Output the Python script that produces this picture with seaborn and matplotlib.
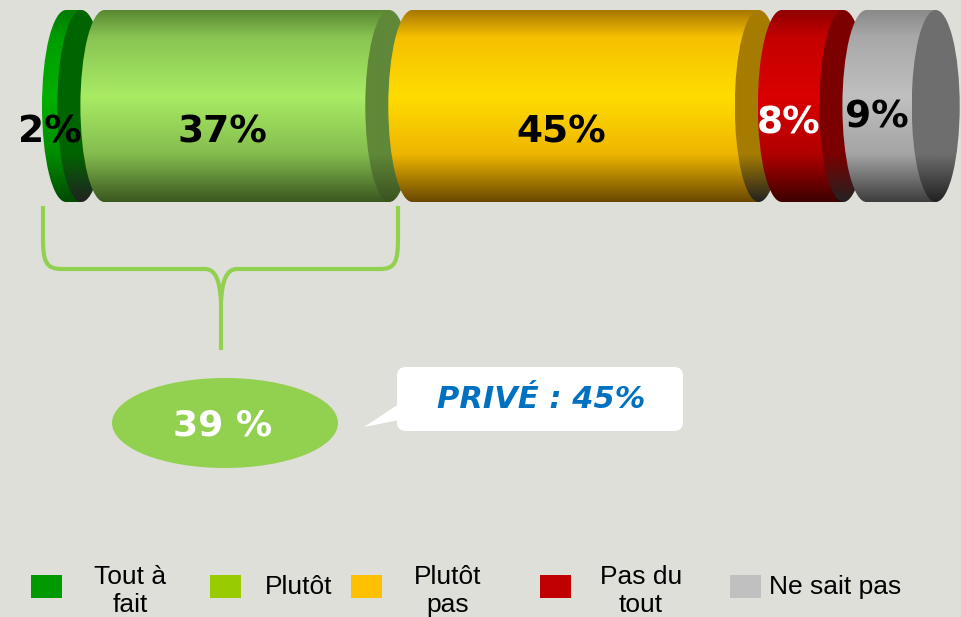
import numpy as np
import matplotlib
matplotlib.use("Agg")
import matplotlib.pyplot as plt
import seaborn as sns
from matplotlib.patches import Ellipse, Rectangle, FancyBboxPatch, Polygon, PathPatch
from matplotlib.path import Path
from matplotlib.colors import LinearSegmentedColormap

# ---------------- data ----------------
categories = ["Tout à fait", "Plutôt", "Plutôt pas", "Pas du tout", "Ne sait pas"]
values = [2, 37, 45, 8, 9]
value_labels = ["2%", "37%", "45%", "8%", "9%"]
legend_labels = ["Tout à\nfait", "Plutôt", "Plutôt\npas", "Pas du\ntout", "Ne sait pas"]
combined_label = f"{values[0] + values[1]} %"
prive_label = "PRIVÉ : 45%"

# ---------------- styles ----------------
legend_colors = ["#009900", "#99cc00", "#ffc000", "#c00000", "#c0c0c0"]
body_profiles = [
    ["#007a00", "#009c00", "#00b000", "#008c00", "#004a00"],
    ["#5a8832", "#88c452", "#a8ec64", "#84bc4e", "#3a5820"],
    ["#a87800", "#f5c000", "#ffdc00", "#eeb600", "#6a4800"],
    ["#900000", "#c40000", "#da0000", "#b00000", "#3c0000"],
    ["#8a8a8a", "#a8a8a8", "#c0c0c0", "#a4a4a4", "#3e3e3e"],
]
profile_pos = [0.0, 0.14, 0.45, 0.75, 1.0]
cap_colors = ["#006400", "#5f8838", "#a67c00", "#7c0000", "#6e6e6e"]
label_colors = ["black", "black", "black", "white", "black"]
label_dy = [0.14, 0.14, 0.14, 0.09, 0.06]
BG = "#dfdfd9"
BRACE = "#92d050"

W, H = 962, 617
K = 7.7          # pixels per percentage point
X0 = 66          # pixel of 0 %
GAP = 23 / K     # visible cap thickness (in % units)
A = 24 / K       # half width of the elliptic caps (in % units)

sns.set_theme(style="white")
plt.rcParams["font.family"] = ["DejaVu Sans"]

fig = plt.figure(figsize=(W / 100, H / 100), dpi=100)
fig.patch.set_facecolor(BG)

axb = fig.add_axes([0, 1 - 202 / H, 1, 192 / H])
axb.set_facecolor("none")

starts = []
pos = 0.0
for v in values:
    starts.append(pos)
    pos += v + GAP


def vgrad(colors, n=256):
    cmap = LinearSegmentedColormap.from_list("g", list(zip(profile_pos, colors)))
    return cmap(np.linspace(0, 1, n))[:, None, :]


for i, v in enumerate(values):
    sns.barplot(x=[v], y=["bar"], orient="h", left=starts[i], width=1,
                color=legend_colors[i], saturation=1, errorbar=None,
                linewidth=0, ax=axb, zorder=1)
    p = axb.patches[-1]
    x0, w = p.get_x(), p.get_width()
    z = 2 + 3 * i
    grad = vgrad(body_profiles[i])
    im = axb.imshow(grad, extent=(x0, x0 + w, 0.5, -0.5), origin="upper",
                    aspect="auto", interpolation="bilinear", zorder=z)
    im.set_clip_path(p)
    # convex left end of the cylinder
    le = Ellipse((x0, 0), 2 * A, 1, facecolor="none", edgecolor="none", zorder=z)
    axb.add_patch(le)
    im2 = axb.imshow(grad, extent=(x0 - A, x0 + A, 0.5, -0.5), origin="upper",
                     aspect="auto", interpolation="bilinear", zorder=z)
    im2.set_clip_path(le)
    # right end face
    cap = Ellipse((x0 + w, 0), 2 * A, 1, facecolor="none", edgecolor="none", zorder=z + 1)
    axb.add_patch(cap)
    c = cap_colors[i]
    capgrad = vgrad([c, c, c, c, "#222222"] if i != 1 else [c, c, c, c, "#3a5220"])
    im3 = axb.imshow(capgrad, extent=(x0 + w - A, x0 + w + A, 0.5, -0.5), origin="upper",
                     aspect="auto", interpolation="bilinear", zorder=z + 1)
    im3.set_clip_path(cap)
    axb.text(x0 + w / 2 - A, label_dy[i], value_labels[i], ha="center", va="center",
             fontsize=27, fontweight="bold", color=label_colors[i], zorder=50)

axb.set_xlim(-X0 / K, (W - X0) / K)
axb.set_ylim(0.5, -0.5)
axb.axis("off")

# ---------------- overlay (annotations, legend) ----------------
axo = fig.add_axes([0, 0, 1, 1])
axo.set_xlim(0, W)
axo.set_ylim(H, 0)
axo.axis("off")

verts = [(43, 206), (43, 238), (43, 262), (46, 269), (62, 269), (205, 269),
         (216, 269), (220, 282), (221, 302), (221, 350)]
codes = [Path.MOVETO, Path.LINETO, Path.CURVE4, Path.CURVE4, Path.CURVE4, Path.LINETO,
         Path.CURVE4, Path.CURVE4, Path.CURVE4, Path.LINETO]
verts2 = [(221, 302), (222, 282), (226, 269), (237, 269), (380, 269),
          (395, 269), (398, 262), (398, 238), (398, 206)]
codes2 = [Path.MOVETO, Path.CURVE4, Path.CURVE4, Path.CURVE4, Path.LINETO,
          Path.CURVE4, Path.CURVE4, Path.CURVE4, Path.LINETO]
for vv, cc in ((verts, codes), (verts2, codes2)):
    axo.add_patch(PathPatch(Path(vv, cc), facecolor="none", edgecolor=BRACE,
                            linewidth=3, capstyle="butt"))

axo.add_patch(Ellipse((225, 423), 226, 90, facecolor=BRACE, edgecolor="none"))
axo.text(223, 425, combined_label, ha="center", va="center", fontsize=26,
         fontweight="bold", color="white")

axo.add_patch(FancyBboxPatch((397, 367), 286, 64,
                             boxstyle="round,pad=0,rounding_size=9",
                             facecolor="white", edgecolor="none"))
axo.add_patch(Polygon([(399, 404), (364, 427), (399, 420)], closed=True,
                      facecolor="white", edgecolor="none"))
axo.text(541, 400, prive_label, ha="center", va="center", fontsize=22,
         fontweight="bold", fontstyle="italic", color="#0070c0")

# legend
sq_x = [31, 210, 351, 540, 730]
txt_x = [130, 265, 448, 641, 769]
txt_ha = ["center", "left", "center", "center", "left"]
for i, lab in enumerate(legend_labels):
    axo.add_patch(Rectangle((sq_x[i], 575), 31, 23, facecolor=legend_colors[i],
                            edgecolor="none"))
    two = "\n" in lab
    axo.text(txt_x[i], 591 if two else 587, lab, ha=txt_ha[i], va="center",
             multialignment="center", fontsize=19, linespacing=1.22,
             family=["Liberation Sans", "DejaVu Sans"], color="black")

fig.savefig("out.png", dpi=100, facecolor=BG)
